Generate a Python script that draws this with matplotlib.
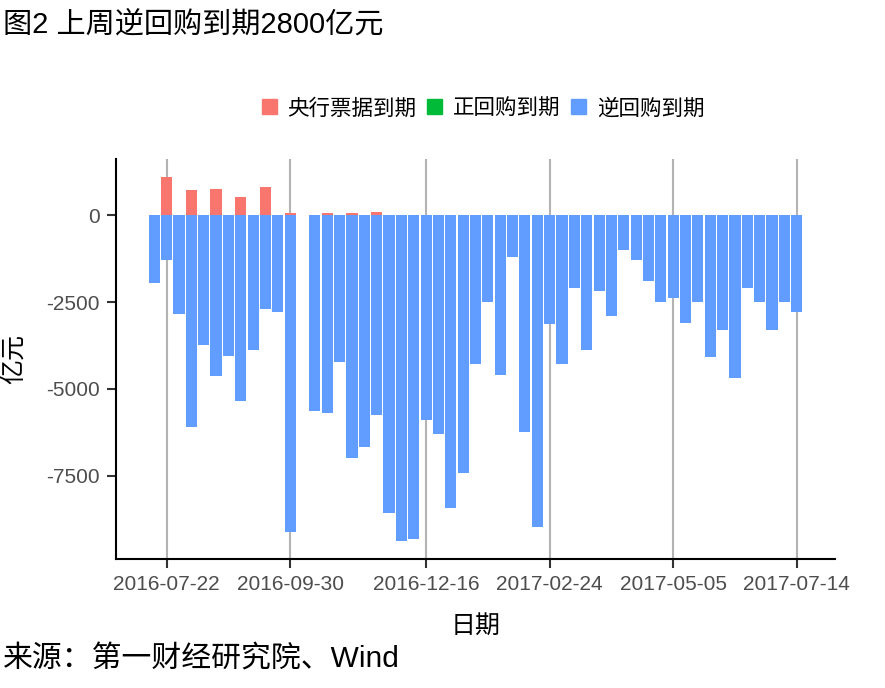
import numpy as np
import pandas as pd
import matplotlib
matplotlib.use("Agg")
import matplotlib.pyplot as plt
import matplotlib.dates as mdates
from matplotlib.patches import Patch

# weekly dates (2016-10-07 missing, National Day week)
dates = pd.date_range("2016-07-15", "2017-07-14", freq="7D")
dates = dates[dates != pd.Timestamp("2016-10-07")]

# 央行票据到期 (亿元)
cbill = [0, 1100, 0, 720, 0, 750, 0, 520, 0, 830, 0, 60,
         0, 60, 0, 60, 0, 90, 0, 0, 0, 0, 0, 0, 0, 0, 0, 0, 0, 0, 0, 0,
         0, 0, 0, 0, 0, 0, 0, 0, 0, 0, 0, 0, 0, 0, 0, 0, 0, 0, 0, 0]
# 正回购到期
repo = [0] * 52
# 逆回购到期
rrepo = [-1950, -1290, -2840, -6100, -3740, -4630, -4050, -5350, -3880, -2700, -2790, -9120,
         -5640, -5690, -4220, -6990, -6670, -5750, -8570, -9380, -9320, -5900, -6300, -8430,
         -7420, -4280, -2500, -4600, -1200, -6240, -8980, -3130, -4280, -2090, -3880, -2180,
         -2900, -1000, -1290, -1890, -2500, -2380, -3100, -2500, -4080, -3300, -4690, -2090,
         -2500, -3300, -2500, -2790]

tick_dates = ["2016-07-22", "2016-09-30", "2016-12-16", "2017-02-24", "2017-05-05", "2017-07-14"]
y_ticks = [0, -2500, -5000, -7500]

cjk = ["Liberation Sans", "Noto Sans CJK SC"]
c_red, c_green, c_blue = "#F8766D", "#00BA38", "#619CFF"

fig = plt.figure(figsize=(8.85, 6.88), dpi=100)
ax = fig.add_axes([0.1311, 0.1875, 0.8124, 0.5814])

x = mdates.date2num(dates)
w = 6.3
ax.bar(x, cbill, width=w, color=c_red, zorder=2)
ax.bar(x, repo, width=w, color=c_green, zorder=2)
ax.bar(x, rrepo, width=w, color=c_blue, zorder=2)

# vertical grid at breaks only
xt = mdates.date2num(pd.to_datetime(tick_dates))
for t in xt:
    ax.axvline(t, color="#b3b3b3", lw=1.5, zorder=1)

lo, hi = x[0] - w / 2, x[-1] + w / 2
pad = (hi - lo) * 0.05
ax.set_xlim(lo - pad, hi + pad)
ymin, ymax = min(rrepo), max(cbill)
ypad = (ymax - ymin) * 0.05
ax.set_ylim(ymin - ypad, ymax + ypad)

ax.set_xticks(xt)
ax.set_xticklabels(tick_dates)
ax.set_yticks(y_ticks)
ax.set_yticklabels([str(v) for v in y_ticks])
ax.tick_params(axis="both", length=6.5, width=1.5, color="#333333",
               labelcolor="#4d4d4d", labelsize=15)
ax.tick_params(axis="x", pad=5)
ax.tick_params(axis="y", pad=5)
for lab in ax.get_xticklabels() + ax.get_yticklabels():
    lab.set_family("Liberation Sans")

for s in ["top", "right"]:
    ax.spines[s].set_visible(False)
for s in ["left", "bottom"]:
    ax.spines[s].set_linewidth(1.5)
    ax.spines[s].set_color("black")

ax.set_xlabel("日期", family=cjk, fontsize=18)
ax.xaxis.set_label_coords(0.5, -0.138)
ax.set_ylabel("亿元", family=cjk, fontsize=18)
ax.yaxis.set_label_coords(-0.126, 0.5)

handles = [Patch(color=c_red, label="央行票据到期"),
           Patch(color=c_green, label="正回购到期"),
           Patch(color=c_blue, label="逆回购到期")]
fig.legend(handles=handles, loc="center", bbox_to_anchor=(0.546, 0.8416), ncol=3,
           frameon=False, prop={"family": cjk, "size": 15.5},
           handlelength=0.7, handleheight=0.7, handletextpad=0.5, columnspacing=0.5)

fig.text(0.003, 0.965, "图2 上周逆回购到期2800亿元", family=cjk, fontsize=21, va="center", ha="left")
fig.text(0.003, 0.042, "来源：第一财经研究院、Wind", family=cjk, fontsize=21.5, va="center", ha="left")

fig.savefig("out.png", dpi=100)
